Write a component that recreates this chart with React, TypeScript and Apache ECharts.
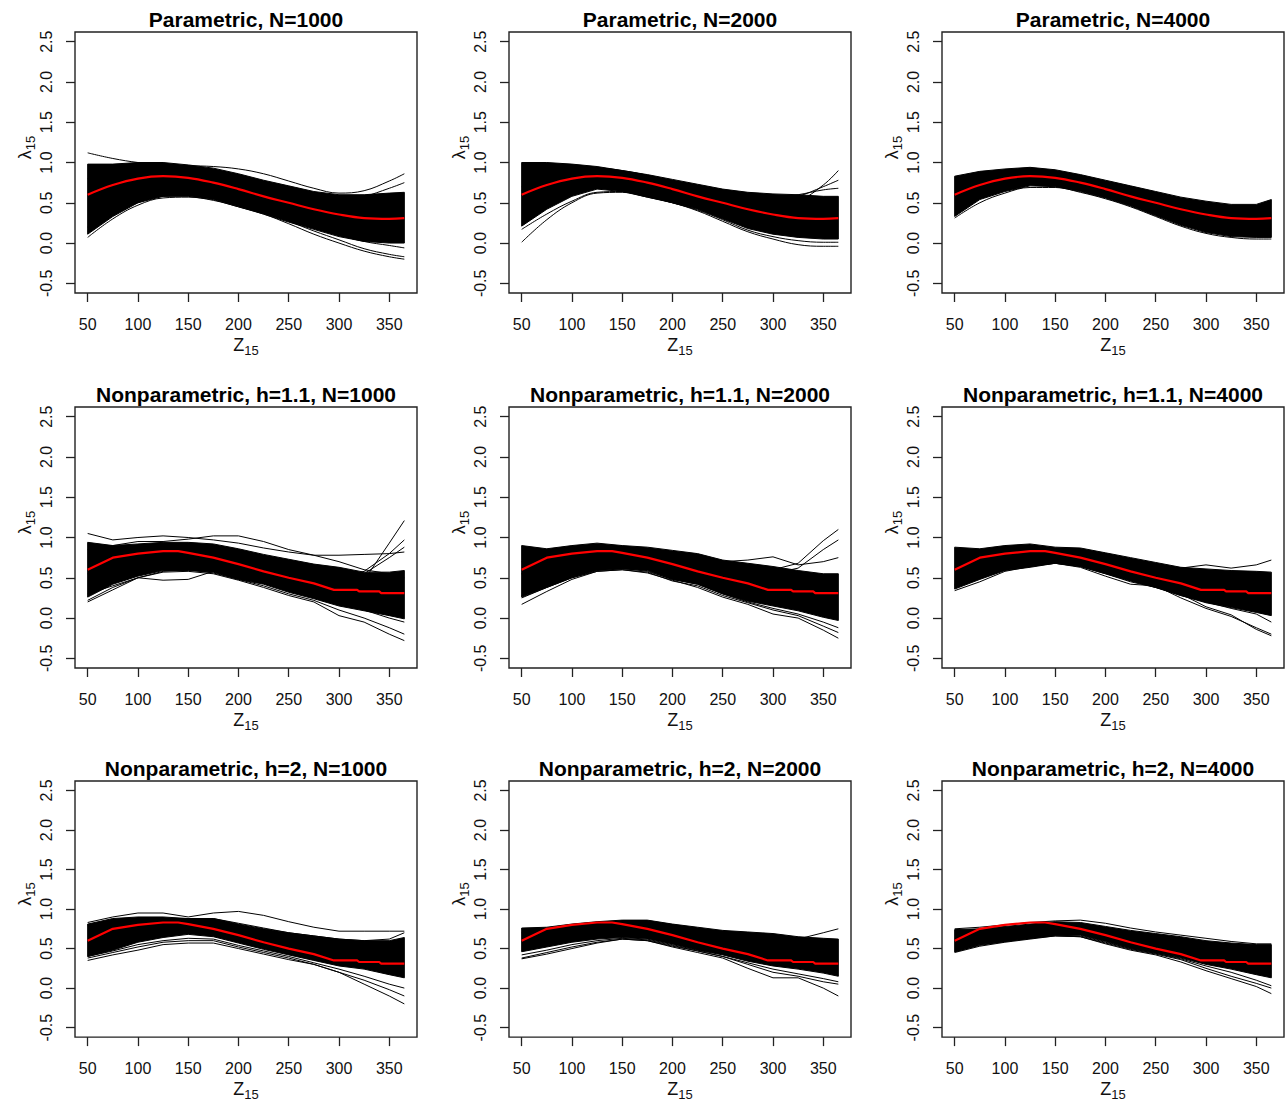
import React, { useEffect, useRef } from "react";
import * as echarts from "echarts";

const FONT = '"Liberation Sans", Arial, sans-serif';

const XS = [50, 75, 100, 125, 150, 175, 200, 225, 250, 275, 300, 325, 350, 365];
const X_TICKS = [50, 100, 150, 200, 250, 300, 350];
const Y_TICKS = [-0.5, 0, 0.5, 1, 1.5, 2, 2.5];

const TITLES = [
  "Parametric, N=1000",
  "Parametric, N=2000",
  "Parametric, N=4000",
  "Nonparametric, h=1.1, N=1000",
  "Nonparametric, h=1.1, N=2000",
  "Nonparametric, h=1.1, N=4000",
  "Nonparametric, h=2, N=1000",
  "Nonparametric, h=2, N=2000",
  "Nonparametric, h=2, N=4000",
];

// true curve (red), parametric panels
const TRUE_Y = [0.60, 0.72, 0.80, 0.83, 0.81, 0.75, 0.67, 0.58, 0.50, 0.42, 0.355, 0.31, 0.30, 0.31];
// true curve (red), nonparametric panels (piecewise)
const RED_NP_X = [50, 75, 100, 125, 140, 150, 175, 200, 225, 250, 275, 295, 318, 320, 340, 342, 365];
const RED_NP_Y = [0.60, 0.75, 0.80, 0.83, 0.83, 0.81, 0.75, 0.67, 0.58, 0.50, 0.43, 0.35, 0.35, 0.33, 0.33, 0.31, 0.31];

// Panel 1: Parametric N=1000
const UP1 = [0.98, 0.98, 1.00, 1.00, 0.97, 0.93, 0.86, 0.78, 0.71, 0.64, 0.60, 0.60, 0.62, 0.63];
const LO1 = [0.11, 0.33, 0.50, 0.58, 0.58, 0.54, 0.45, 0.36, 0.26, 0.17, 0.08, 0.02, 0.00, 0.00];
const OUT1 = [
  [1.12, 1.05, 1.00, 0.97, 0.96, 0.95, 0.92, 0.86, 0.77, 0.68, 0.62, 0.65, 0.77, 0.86],
  [0.80, 0.88, 0.93, 0.94, 0.92, 0.86, 0.78, 0.70, 0.62, 0.56, 0.54, 0.58, 0.68, 0.75],
  [0.07, 0.30, 0.47, 0.56, 0.57, 0.53, 0.45, 0.36, 0.24, 0.11, 0.00, -0.10, -0.17, -0.20],
  [0.15, 0.36, 0.50, 0.58, 0.59, 0.55, 0.47, 0.38, 0.27, 0.15, 0.04, -0.07, -0.14, -0.17],
  [0.20, 0.40, 0.54, 0.60, 0.60, 0.56, 0.49, 0.40, 0.30, 0.20, 0.10, 0.02, -0.03, -0.06],
];

// Panel 2: Parametric N=2000
const UP2 = [1.00, 1.00, 0.98, 0.95, 0.90, 0.85, 0.79, 0.73, 0.67, 0.63, 0.61, 0.60, 0.58, 0.58];
const LO2 = [0.21, 0.42, 0.58, 0.67, 0.64, 0.57, 0.50, 0.42, 0.30, 0.18, 0.11, 0.07, 0.05, 0.05];
const OUT2 = [
  [0.01, 0.29, 0.50, 0.62, 0.63, 0.57, 0.50, 0.40, 0.27, 0.14, 0.05, -0.02, -0.04, -0.04],
  [0.17, 0.36, 0.52, 0.63, 0.64, 0.58, 0.50, 0.41, 0.29, 0.16, 0.08, 0.03, 0.01, 0.01],
  [0.70, 0.85, 0.92, 0.93, 0.90, 0.84, 0.76, 0.67, 0.58, 0.50, 0.46, 0.52, 0.72, 0.90],
  [0.65, 0.80, 0.88, 0.90, 0.88, 0.83, 0.76, 0.68, 0.60, 0.54, 0.52, 0.58, 0.70, 0.78],
  [0.60, 0.78, 0.87, 0.90, 0.88, 0.83, 0.76, 0.68, 0.60, 0.56, 0.56, 0.60, 0.66, 0.68],
];

// Panel 3: Parametric N=4000
const UP3 = [0.83, 0.89, 0.92, 0.94, 0.91, 0.85, 0.78, 0.71, 0.64, 0.57, 0.52, 0.48, 0.48, 0.54];
const LO3 = [0.33, 0.54, 0.64, 0.71, 0.70, 0.64, 0.56, 0.46, 0.34, 0.22, 0.13, 0.08, 0.07, 0.07];
const OUT3 = [
  [0.31, 0.50, 0.62, 0.69, 0.69, 0.63, 0.55, 0.45, 0.33, 0.21, 0.12, 0.07, 0.05, 0.05],
];

// Panel 4: Nonparametric h=1.1 N=1000
const UP4 = [0.94, 0.90, 0.92, 0.94, 0.94, 0.92, 0.86, 0.79, 0.73, 0.67, 0.63, 0.57, 0.57, 0.59];
const LO4 = [0.26, 0.42, 0.52, 0.59, 0.59, 0.57, 0.48, 0.42, 0.32, 0.24, 0.15, 0.09, 0.03, -0.01];
const OUT4 = [
  [0.60, 0.70, 0.78, 0.80, 0.78, 0.72, 0.66, 0.60, 0.52, 0.45, 0.42, 0.47, 0.93, 1.21],
  [1.05, 0.97, 1.00, 1.02, 1.00, 0.97, 0.93, 0.87, 0.82, 0.78, 0.78, 0.79, 0.80, 0.82],
  [0.85, 0.90, 0.95, 0.95, 0.98, 1.02, 1.02, 0.95, 0.85, 0.78, 0.70, 0.60, 0.55, 0.50],
  [0.30, 0.40, 0.50, 0.47, 0.48, 0.58, 0.55, 0.45, 0.35, 0.28, 0.20, 0.10, 0.00, -0.05],
  [0.20, 0.35, 0.50, 0.57, 0.58, 0.55, 0.47, 0.38, 0.28, 0.20, 0.03, -0.05, -0.20, -0.28],
  [0.22, 0.38, 0.50, 0.58, 0.60, 0.56, 0.48, 0.40, 0.30, 0.22, 0.10, 0.00, -0.12, -0.20],
  [0.60, 0.70, 0.78, 0.82, 0.82, 0.78, 0.72, 0.65, 0.58, 0.52, 0.48, 0.58, 0.80, 0.97],
  [0.55, 0.65, 0.75, 0.80, 0.80, 0.76, 0.70, 0.62, 0.55, 0.50, 0.50, 0.55, 0.75, 0.88],
];

// Panel 5: Nonparametric h=1.1 N=2000
const UP5 = [0.90, 0.86, 0.90, 0.93, 0.90, 0.88, 0.84, 0.80, 0.72, 0.68, 0.64, 0.59, 0.55, 0.55];
const LO5 = [0.26, 0.38, 0.50, 0.59, 0.61, 0.59, 0.48, 0.42, 0.30, 0.21, 0.15, 0.09, 0.01, -0.03];
const OUT5 = [
  [0.55, 0.68, 0.78, 0.82, 0.80, 0.75, 0.68, 0.60, 0.52, 0.48, 0.60, 0.68, 0.96, 1.10],
  [0.55, 0.68, 0.78, 0.82, 0.80, 0.75, 0.68, 0.60, 0.52, 0.48, 0.55, 0.62, 0.85, 0.97],
  [0.70, 0.78, 0.85, 0.88, 0.86, 0.82, 0.76, 0.72, 0.70, 0.72, 0.76, 0.66, 0.70, 0.75],
  [0.17, 0.33, 0.48, 0.58, 0.60, 0.56, 0.47, 0.38, 0.26, 0.17, 0.05, 0.00, -0.15, -0.25],
  [0.25, 0.38, 0.50, 0.58, 0.60, 0.57, 0.46, 0.40, 0.28, 0.19, 0.10, 0.03, -0.10, -0.18],
  [0.28, 0.40, 0.52, 0.60, 0.62, 0.58, 0.48, 0.42, 0.30, 0.20, 0.12, 0.05, -0.05, -0.12],
];

// Panel 6: Nonparametric h=1.1 N=4000
const UP6 = [0.88, 0.86, 0.90, 0.92, 0.88, 0.87, 0.81, 0.75, 0.69, 0.63, 0.61, 0.59, 0.58, 0.57];
const LO6 = [0.36, 0.48, 0.59, 0.63, 0.68, 0.64, 0.55, 0.46, 0.38, 0.28, 0.19, 0.13, 0.07, 0.03];
const OUT6 = [
  [0.60, 0.72, 0.80, 0.84, 0.83, 0.78, 0.72, 0.66, 0.60, 0.62, 0.66, 0.62, 0.66, 0.72],
  [0.34, 0.45, 0.58, 0.64, 0.68, 0.64, 0.55, 0.45, 0.38, 0.30, 0.14, 0.04, -0.14, -0.22],
  [0.40, 0.50, 0.60, 0.65, 0.68, 0.63, 0.52, 0.42, 0.40, 0.25, 0.12, 0.02, -0.12, -0.20],
  [0.42, 0.52, 0.60, 0.66, 0.70, 0.66, 0.56, 0.47, 0.38, 0.28, 0.20, 0.12, 0.05, -0.05],
];

// Panel 7: Nonparametric h=2 N=1000
const UP7 = [0.81, 0.88, 0.90, 0.90, 0.88, 0.88, 0.81, 0.75, 0.70, 0.66, 0.62, 0.60, 0.60, 0.64];
const LO7 = [0.40, 0.48, 0.58, 0.64, 0.68, 0.65, 0.57, 0.49, 0.42, 0.35, 0.28, 0.24, 0.17, 0.13];
const OUT7 = [
  [0.83, 0.90, 0.95, 0.95, 0.90, 0.95, 0.97, 0.92, 0.84, 0.77, 0.72, 0.72, 0.72, 0.72],
  [0.35, 0.42, 0.48, 0.55, 0.57, 0.57, 0.50, 0.43, 0.36, 0.30, 0.20, 0.05, -0.10, -0.20],
  [0.38, 0.45, 0.52, 0.58, 0.60, 0.60, 0.52, 0.45, 0.38, 0.30, 0.20, 0.10, -0.02, -0.10],
  [0.40, 0.47, 0.55, 0.60, 0.63, 0.62, 0.54, 0.47, 0.40, 0.32, 0.24, 0.15, 0.05, 0.00],
  [0.80, 0.85, 0.88, 0.88, 0.88, 0.88, 0.82, 0.76, 0.70, 0.66, 0.62, 0.60, 0.62, 0.70],
];

// Panel 8: Nonparametric h=2 N=2000
const UP8 = [0.76, 0.77, 0.81, 0.84, 0.86, 0.86, 0.81, 0.77, 0.73, 0.71, 0.69, 0.65, 0.63, 0.62];
const LO8 = [0.46, 0.52, 0.58, 0.62, 0.64, 0.62, 0.55, 0.48, 0.42, 0.34, 0.28, 0.24, 0.19, 0.15];
const OUT8 = [
  [0.37, 0.43, 0.50, 0.57, 0.62, 0.60, 0.52, 0.45, 0.38, 0.25, 0.13, 0.13, 0.00, -0.10],
  [0.38, 0.45, 0.52, 0.58, 0.62, 0.60, 0.53, 0.47, 0.40, 0.30, 0.20, 0.15, 0.08, 0.05],
  [0.70, 0.75, 0.80, 0.82, 0.84, 0.84, 0.80, 0.75, 0.72, 0.70, 0.66, 0.62, 0.70, 0.75],
  [0.42, 0.48, 0.55, 0.60, 0.63, 0.61, 0.54, 0.47, 0.40, 0.32, 0.24, 0.18, 0.12, 0.08],
];

// Panel 9: Nonparametric h=2 N=4000
const UP9 = [0.74, 0.75, 0.78, 0.81, 0.84, 0.83, 0.78, 0.73, 0.69, 0.65, 0.60, 0.57, 0.55, 0.55];
const LO9 = [0.46, 0.55, 0.59, 0.63, 0.67, 0.67, 0.59, 0.50, 0.44, 0.38, 0.30, 0.24, 0.17, 0.13];
const OUT9 = [
  [0.45, 0.53, 0.58, 0.62, 0.66, 0.65, 0.56, 0.48, 0.42, 0.33, 0.22, 0.12, 0.02, -0.07],
  [0.46, 0.54, 0.59, 0.63, 0.66, 0.65, 0.57, 0.49, 0.43, 0.36, 0.25, 0.15, 0.06, 0.00],
  [0.75, 0.77, 0.80, 0.83, 0.85, 0.86, 0.82, 0.76, 0.71, 0.67, 0.63, 0.59, 0.56, 0.56],
  [0.46, 0.55, 0.59, 0.63, 0.67, 0.66, 0.58, 0.50, 0.44, 0.37, 0.28, 0.20, 0.10, 0.03],
];

const BANDS_UP = [UP1, UP2, UP3, UP4, UP5, UP6, UP7, UP8, UP9];
const BANDS_LO = [LO1, LO2, LO3, LO4, LO5, LO6, LO7, LO8, LO9];
const OUTLIERS = [OUT1, OUT2, OUT3, OUT4, OUT5, OUT6, OUT7, OUT8, OUT9];

// layout
const COL_LEFT = [75, 509, 942];
const ROW_TOP = [32, 407, 781];
const PW = 342;
const PH = 261;

function buildOption() {
  const grids: any[] = [];
  const xAxes: any[] = [];
  const yAxes: any[] = [];
  const series: any[] = [];
  const graphics: any[] = [];
  const axisColor = "#222";
  const rich = {
    m: { fontSize: 18, fontFamily: FONT, color: "#111", lineHeight: 20 },
    s: { fontSize: 13, fontFamily: FONT, color: "#111", lineHeight: 14, padding: [11, 0, 0, 0] },
  };

  for (let p = 0; p < 9; p++) {
    const r = Math.floor(p / 3);
    const c = p % 3;
    const left = COL_LEFT[c];
    const top = ROW_TOP[r];
    grids.push({
      left,
      top,
      width: PW,
      height: PH,
      show: true,
      borderColor: axisColor,
      borderWidth: 1.4,
      backgroundColor: "#fff",
      containLabel: false,
    });
    xAxes.push({
      gridIndex: p,
      type: "value",
      position: "bottom",
      min: 37.4,
      max: 377.6,
      axisLine: { show: false, onZero: false },
      splitLine: { show: false },
      axisTick: {
        show: true,
        inside: false,
        length: 9,
        customValues: X_TICKS,
        lineStyle: { color: axisColor, width: 1.3 },
      },
      axisLabel: {
        customValues: X_TICKS,
        margin: 23,
        fontSize: 16,
        fontFamily: FONT,
        color: "#111",
      },
      name: "{m|Z}{s|15}",
      nameLocation: "middle",
      nameGap: 36,
      nameTextStyle: { fontSize: 18, fontFamily: FONT, color: "#111", rich },
    });
    yAxes.push({
      gridIndex: p,
      type: "value",
      position: "left",
      min: -0.62,
      max: 2.62,
      axisLine: { show: false, onZero: false },
      splitLine: { show: false },
      axisTick: {
        show: true,
        inside: false,
        length: 9,
        customValues: Y_TICKS,
        lineStyle: { color: axisColor, width: 1.3 },
      },
      axisLabel: {
        customValues: Y_TICKS,
        rotate: 90,
        margin: 21,
        fontSize: 16,
        fontFamily: FONT,
        color: "#111",
        formatter: (v: number) => v.toFixed(1),
      },
      name: "{m|λ}{s|15}",
      nameLocation: "middle",
      nameRotate: 90,
      nameGap: 38,
      nameTextStyle: {
        fontSize: 18,
        fontFamily: FONT,
        color: "#111",
        padding: [0, 0, 0, 30],
        rich,
      },
    });

    graphics.push({
      type: "text",
      x: left + PW / 2,
      y: top - 13,
      silent: true,
      style: {
        text: TITLES[p],
        fontSize: 21,
        fontWeight: "bold",
        fontFamily: FONT,
        fill: "#000",
        align: "center",
        verticalAlign: "middle",
      },
    });

    const up = BANDS_UP[p];
    const lo = BANDS_LO[p];
    const parametric = p < 3;

    series.push({
      type: "custom",
      xAxisIndex: p,
      yAxisIndex: p,
      silent: true,
      clip: true,
      z: 2,
      data: XS.map((x, i) => [x, lo[i], up[i]]),
      renderItem: (params: any, api: any) => {
        if (params.dataIndex !== 0) return null;
        const pts: number[][] = [];
        for (let i = 0; i < XS.length; i++) pts.push(api.coord([XS[i], up[i]]));
        for (let i = XS.length - 1; i >= 0; i--) pts.push(api.coord([XS[i], lo[i]]));
        return {
          type: "polygon",
          shape: { points: pts },
          style: { fill: "#000", stroke: "#000", lineWidth: 1 },
        };
      },
    });

    OUTLIERS[p].forEach((arr) => {
      series.push({
        type: "line",
        xAxisIndex: p,
        yAxisIndex: p,
        silent: true,
        symbol: "none",
        showSymbol: false,
        smooth: parametric ? 0.4 : false,
        z: 3,
        lineStyle: { color: "#000", width: 1 },
        data: XS.map((x, i) => [x, arr[i]]),
      });
    });

    series.push({
      type: "line",
      xAxisIndex: p,
      yAxisIndex: p,
      silent: true,
      symbol: "none",
      showSymbol: false,
      smooth: parametric ? 0.4 : false,
      z: 5,
      lineStyle: { color: "#ff0000", width: 2.2 },
      data: parametric
        ? XS.map((x, i) => [x, TRUE_Y[i]])
        : RED_NP_X.map((x, i) => [x, RED_NP_Y[i]]),
    });
  }

  return {
    animation: false,
    backgroundColor: "#fff",
    textStyle: { fontFamily: FONT },
    grid: grids,
    xAxis: xAxes,
    yAxis: yAxes,
    series,
    graphic: graphics,
  };
}

export default function App() {
  const ref = useRef<HTMLDivElement>(null);
  useEffect(() => {
    if (!ref.current) return;
    const chart = echarts.init(ref.current, undefined, { renderer: "svg" });
    chart.setOption(buildOption() as any);
    return () => chart.dispose();
  }, []);
  return (
    <div
      ref={ref}
      style={{ position: "absolute", left: 0, top: 0, width: 1288, height: 1102, background: "#fff" }}
    />
  );
}
